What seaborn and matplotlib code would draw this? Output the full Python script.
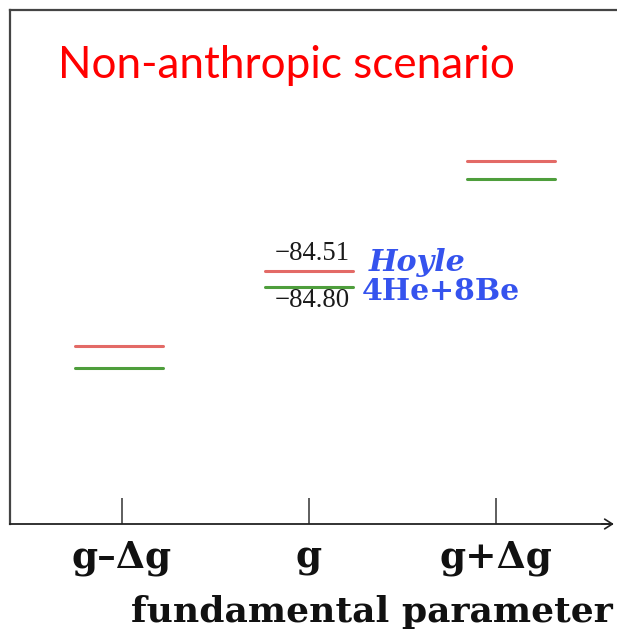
import numpy as np
import pandas as pd
import matplotlib
matplotlib.use("Agg")
import matplotlib.pyplot as plt
import seaborn as sns

# ---- data ----
params = ["g\u2013\u0394g", "g", "g+\u0394g"]
hoyle_E = [-85.88, -84.51, -82.52]      # Hoyle state level (MeV), schematic
be8_E = [-86.27, -84.80, -82.85]        # 4He+8Be threshold (MeV), schematic
states = ["Hoyle", "4He+8Be"]
title_text = "Non-anthropic scenario"
xlabel_text = "fundamental parameter"

# ---- style / layout ----
hw = 0.235                      # half width of a level bar (x units)
nudge = [-0.016, 0.0, 0.08]     # small horizontal nudge of each level group

rows = []
seg = 0
for i, _ in enumerate(params):
    for st, vals in zip(states, [hoyle_E, be8_E]):
        for dx in (-hw, hw):
            rows.append({"x": i + nudge[i] + dx, "E": vals[i], "state": st, "seg": seg})
        seg += 1
df = pd.DataFrame(rows)

sns.set_style("white")
plt.rcParams["font.family"] = ["DejaVu Serif"]

W, H = 617, 632
fig = plt.figure(figsize=(W / 100, H / 100), dpi=100)
ax = fig.add_axes([10 / W, (H - 524) / H, (617 - 10) / W, (524 - 10) / H])

palette = {"Hoyle": "#e36a66", "4He+8Be": "#4e9e3c"}
sns.lineplot(data=df, x="x", y="E", hue="state", units="seg", estimator=None,
             palette=palette, linewidth=2.2, legend=False, ax=ax, sort=False)

ax.set_xlim(-0.599, 2.647)
ax.set_ylim(-89.10, -79.785)
ax.set_xticks(range(len(params)))
ax.set_xticklabels(params, fontsize=27, fontweight="bold", family="DejaVu Serif")
ax.set_yticks([])
ax.set_xlabel("")
ax.set_ylabel("")
ax.tick_params(axis="x", which="major", bottom=True, direction="in", length=19,
               width=1.1, color="#333333", pad=11, labelcolor="#111111")

for s in ["left", "top"]:
    ax.spines[s].set_color("#444444")
    ax.spines[s].set_linewidth(1.6)
ax.spines["bottom"].set_color("#222222")
ax.spines["bottom"].set_linewidth(1.3)
ax.spines["bottom"].set_bounds(-0.599, 2.62)
ax.spines["right"].set_visible(False)

# arrow head on the x axis
ax.annotate("", xy=(2.645, ax.get_ylim()[0]), xytext=(2.55, ax.get_ylim()[0]),
            xycoords="data",
            arrowprops=dict(arrowstyle="->,head_length=0.55,head_width=0.35",
                            lw=1.2, color="#222222"), annotation_clip=False)

# labels at the middle level
mid = 1
xr = mid + nudge[mid] + hw
ax.annotate(f"\u2212{abs(hoyle_E[mid]):.2f}", xy=(xr, hoyle_E[mid]),
            xytext=(-2, 7.5), textcoords="offset points", ha="right", va="baseline",
            fontsize=19.3, family="Liberation Serif", color="#1a1a1a")
ax.annotate(f"\u2212{abs(be8_E[mid]):.2f}", xy=(xr, be8_E[mid]),
            xytext=(-2, -14.6), textcoords="offset points", ha="right", va="baseline",
            fontsize=19.3, family="Liberation Serif", color="#1a1a1a")
ax.annotate(states[0], xy=(xr, hoyle_E[mid]),
            xytext=(11, 0), textcoords="offset points", ha="left", va="baseline",
            fontsize=21.7, family="DejaVu Serif", fontweight="bold", fontstyle="italic",
            color="#3553ee")
ax.annotate(states[1], xy=(xr, be8_E[mid]),
            xytext=(6.5, -9.6), textcoords="offset points", ha="left", va="baseline",
            fontsize=21.5, family="DejaVu Serif", fontweight="bold",
            color="#3553ee")

fig.text(58 / W, (H - 78) / H, title_text, ha="left", va="baseline",
         fontsize=31.7, family="Lato", color="#ff0000")
fig.text(613 / W, (H - 622) / H, xlabel_text, ha="right", va="baseline",
         fontsize=26, family="DejaVu Serif", fontweight="bold", color="#111111")

fig.savefig("out.png", dpi=100)
